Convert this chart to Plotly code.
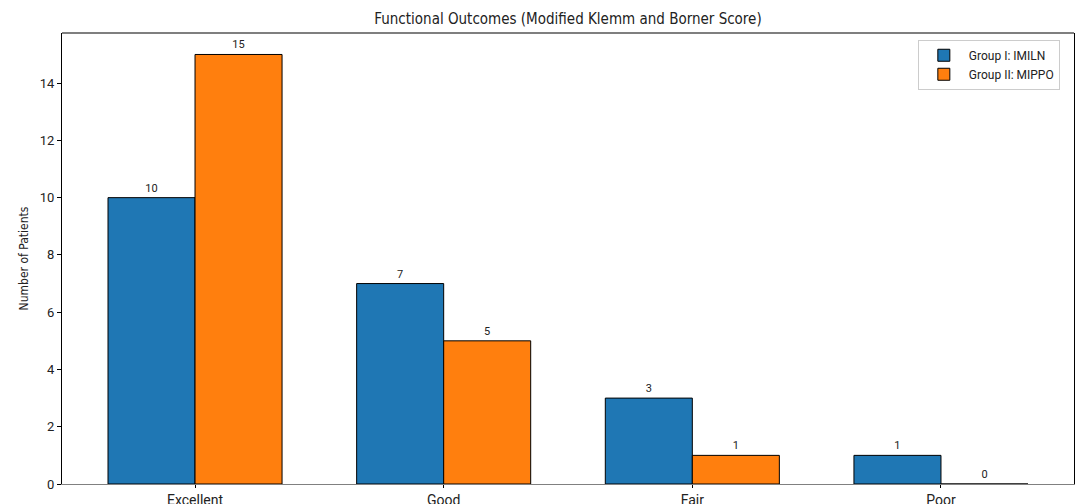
import plotly.graph_objects as go

categories = ["Excellent", "Good", "Fair", "Poor"]
group1_name = "Group I: IMILN"
group2_name = "Group II: MIPPO"
group1_values = [10, 7, 3, 1]
group2_values = [15, 5, 1, 0]
y_ticks = [0, 2, 4, 6, 8, 10, 12, 14]

font_main = "Roboto, Inter, 'Open Sans', sans-serif"
font_narrow = "'DejaVu Sans Condensed', 'Liberation Sans Narrow', Roboto, sans-serif"

fig = go.Figure()
for name, vals, color in [(group1_name, group1_values, "#1f77b4"),
                          (group2_name, group2_values, "#ff7f0e")]:
    fig.add_trace(go.Bar(
        x=categories, y=vals, name=name,
        marker=dict(color=color, line=dict(color="black", width=1)),
        text=[str(v) for v in vals], textposition="outside",
        textfont=dict(size=11, color="#222", family=font_main),
        cliponaxis=False,
    ))

fig.update_layout(
    width=1075, height=504,
    margin=dict(l=62, r=1, t=33, b=20, autoexpand=False),
    paper_bgcolor="white", plot_bgcolor="white",
    barmode="group", bargap=0.3, bargroupgap=0,
    title=dict(text="Functional Outcomes (Modified Klemm and Borner Score)",
               x=(62 + 1074) / 2 / 1075, xanchor="center",
               yref="container", y=1 - 19 / 504, yanchor="middle",
               font=dict(size=15, color="#222", family=font_narrow)),
    font=dict(family=font_main, color="#222"),
    showlegend=True,
    legend=dict(x=0.986, y=0.985, xanchor="right", yanchor="top",
                bgcolor="white", bordercolor="#ccc", borderwidth=1,
                font=dict(size=12, family=font_main), traceorder="normal",
                itemwidth=40, tracegroupgap=2),
    xaxis=dict(range=[-0.535, 3.535], showline=True, linecolor="#808080", linewidth=1.2,
               ticks="outside", ticklen=3, tickcolor="black", tickfont=dict(size=14, family=font_main),
               showgrid=False, zeroline=False, automargin=False, ticklabelstandoff=0),
    yaxis=dict(range=[0, 15.75], tickvals=y_ticks, showline=True, linecolor="black", linewidth=1.2,
               mirror=True, ticks="outside", ticklen=4, tickcolor="black",
               tickfont=dict(size=13, family=font_main), showgrid=False, zeroline=False,
               automargin=False,
               title=dict(text="Number of Patients", standoff=8,
                          font=dict(size=12, family=font_narrow))),
    shapes=[dict(type="line", xref="paper", yref="paper", x0=0, x1=1, y0=1, y1=1,
                 line=dict(color="black", width=1.2))],
)

fig.write_html("out.html", config={"displayModeBar": False},
               post_script="document.body.style.margin='0';document.body.style.overflow='hidden';")
